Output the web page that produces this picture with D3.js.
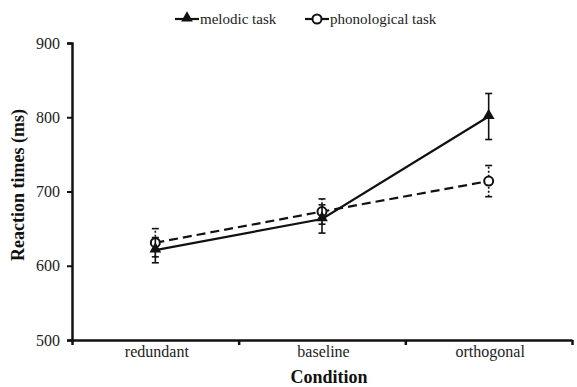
<!DOCTYPE html>
<html>
<head>
<meta charset="utf-8">
<script src="https://cdn.jsdelivr.net/npm/d3@7"></script>
<style>
  html, body { margin: 0; padding: 0; background: #fff; }
  svg { display: block; }
  svg text { font-family: "Liberation Serif", "Times New Roman", Times, "DejaVu Serif", serif !important; }
</style>
</head>
<body>
<svg id="chart" width="577" height="387"></svg>
<script>
// Conditions on the x axis
const conditions = ["redundant", "baseline", "orthogonal"];

// Mean reaction times (ms) and error bar half-widths per task
const melodicRT = [621, 663, 801];
const melodicErr = [17, 19, 31];
const phonologicalRT = [631, 673, 714];
const phonologicalErr = [19, 17, 21];

// Axis ticks
const yTicks = [500, 600, 700, 800, 900];

const seriesNames = ["melodic task", "phonological task"];

const svg = d3.select("#chart");
const plotLeft = 72, plotRight = 572, plotTop = 43, plotBottom = 340;

const x = d3.scaleBand().domain(conditions).range([plotLeft, plotRight]).padding(0);
const xEdge = d3.scaleLinear().domain([0, conditions.length]).range([plotLeft, plotRight]);
const y = d3.scaleLinear().domain([500, 900]).range([plotBottom, plotTop]);

// Y axis
const yAxis = svg.append("g")
  .attr("transform", `translate(${plotLeft},0)`)
  .call(d3.axisLeft(y).tickValues(yTicks).tickSize(5).tickSizeOuter(5).tickPadding(7));
yAxis.select(".domain").attr("stroke", "#111").attr("stroke-width", 2.5);
yAxis.selectAll(".tick line").attr("stroke", "#111").attr("stroke-width", 2);
yAxis.selectAll(".tick text").attr("font-size", 16).attr("fill", "#222");

// X axis: boundary ticks between categories
const xTicksG = svg.append("g")
  .attr("transform", `translate(0,${plotBottom})`)
  .call(d3.axisBottom(xEdge).tickValues(d3.range(conditions.length + 1)).tickFormat("").tickSize(5).tickSizeOuter(0));
xTicksG.select(".domain").attr("stroke", "#111").attr("stroke-width", 2.5);
xTicksG.selectAll(".tick line").attr("stroke", "#111").attr("stroke-width", 2.5);

// X axis: category labels
const xLabels = svg.append("g")
  .attr("transform", `translate(1.5,${plotBottom})`)
  .call(d3.axisBottom(x).tickSize(0).tickPadding(6));
xLabels.select(".domain").remove();
xLabels.selectAll(".tick text").attr("font-size", 16).attr("fill", "#222");

// Axis titles
svg.append("text")
  .attr("x", 329).attr("y", 383)
  .attr("text-anchor", "middle")
  .attr("font-weight", "bold").attr("font-size", 18).attr("fill", "#111")
  .text("Condition");

svg.append("text")
  .attr("transform", "translate(24,185) rotate(-90)")
  .attr("text-anchor", "middle")
  .attr("font-weight", "bold").attr("font-size", 18).attr("fill", "#111")
  .text("Reaction times (ms)");

const cx = c => x(c) + x.bandwidth() / 2;

const series = [
  { name: seriesNames[1], values: phonologicalRT, errs: phonologicalErr, dash: "9,5", errDash: "2,2", marker: "circle" },
  { name: seriesNames[0], values: melodicRT, errs: melodicErr, dash: null, errDash: null, marker: "triangle" }
];

const line = d3.line().x(d => cx(d.c)).y(d => y(d.v));
const triangle = d3.symbol().type(d3.symbolTriangle).size(60);

series.forEach(s => {
  const pts = conditions.map((c, i) => ({ c, v: s.values[i], e: s.errs[i] }));
  const g = svg.append("g");

  // Error bars
  const eb = g.selectAll("g.err").data(pts).join("g").attr("class", "err");
  eb.append("line")
    .attr("x1", d => cx(d.c)).attr("x2", d => cx(d.c))
    .attr("y1", d => y(d.v - d.e)).attr("y2", d => y(d.v + d.e))
    .attr("stroke", "#111").attr("stroke-width", 1.6)
    .attr("stroke-dasharray", s.errDash);
  [-1, 1].forEach(sign => {
    eb.append("line")
      .attr("x1", d => cx(d.c) - 3.5).attr("x2", d => cx(d.c) + 3.5)
      .attr("y1", d => y(d.v + sign * d.e)).attr("y2", d => y(d.v + sign * d.e))
      .attr("stroke", "#111").attr("stroke-width", 1.6);
  });

  // Connecting line
  g.append("path").datum(pts)
    .attr("d", line)
    .attr("fill", "none").attr("stroke", "#111").attr("stroke-width", 2.2)
    .attr("stroke-dasharray", s.dash);

  // Markers
  if (s.marker === "circle") {
    g.selectAll("circle").data(pts).join("circle")
      .attr("cx", d => cx(d.c)).attr("cy", d => y(d.v)).attr("r", 4.5)
      .attr("fill", "#fff").attr("stroke", "#111").attr("stroke-width", 2);
  } else {
    g.selectAll("path.mk").data(pts).join("path").attr("class", "mk")
      .attr("d", triangle)
      .attr("transform", d => `translate(${cx(d.c)},${y(d.v) - 1})`)
      .attr("fill", "#111");
  }
});

// Legend
const legend = svg.append("g");
const legendItems = [
  { name: seriesNames[0], x0: 175, marker: "triangle" },
  { name: seriesNames[1], x0: 305, marker: "circle" }
];
legendItems.forEach(it => {
  const ly = 19;
  legend.append("line")
    .attr("x1", it.x0).attr("x2", it.x0 + 24).attr("y1", ly).attr("y2", ly)
    .attr("stroke", "#111").attr("stroke-width", 2.2);
  if (it.marker === "triangle") {
    legend.append("path").attr("d", triangle)
      .attr("transform", `translate(${it.x0 + 12},${ly - 1})`).attr("fill", "#111");
  } else {
    legend.append("circle").attr("cx", it.x0 + 12).attr("cy", ly).attr("r", 4.5)
      .attr("fill", "#fff").attr("stroke", "#111").attr("stroke-width", 2);
  }
  legend.append("text")
    .attr("x", it.x0 + 25).attr("y", ly + 5)
    .attr("font-size", 15).attr("fill", "#222")
    .text(it.name);
});
</script>
</body>
</html>
